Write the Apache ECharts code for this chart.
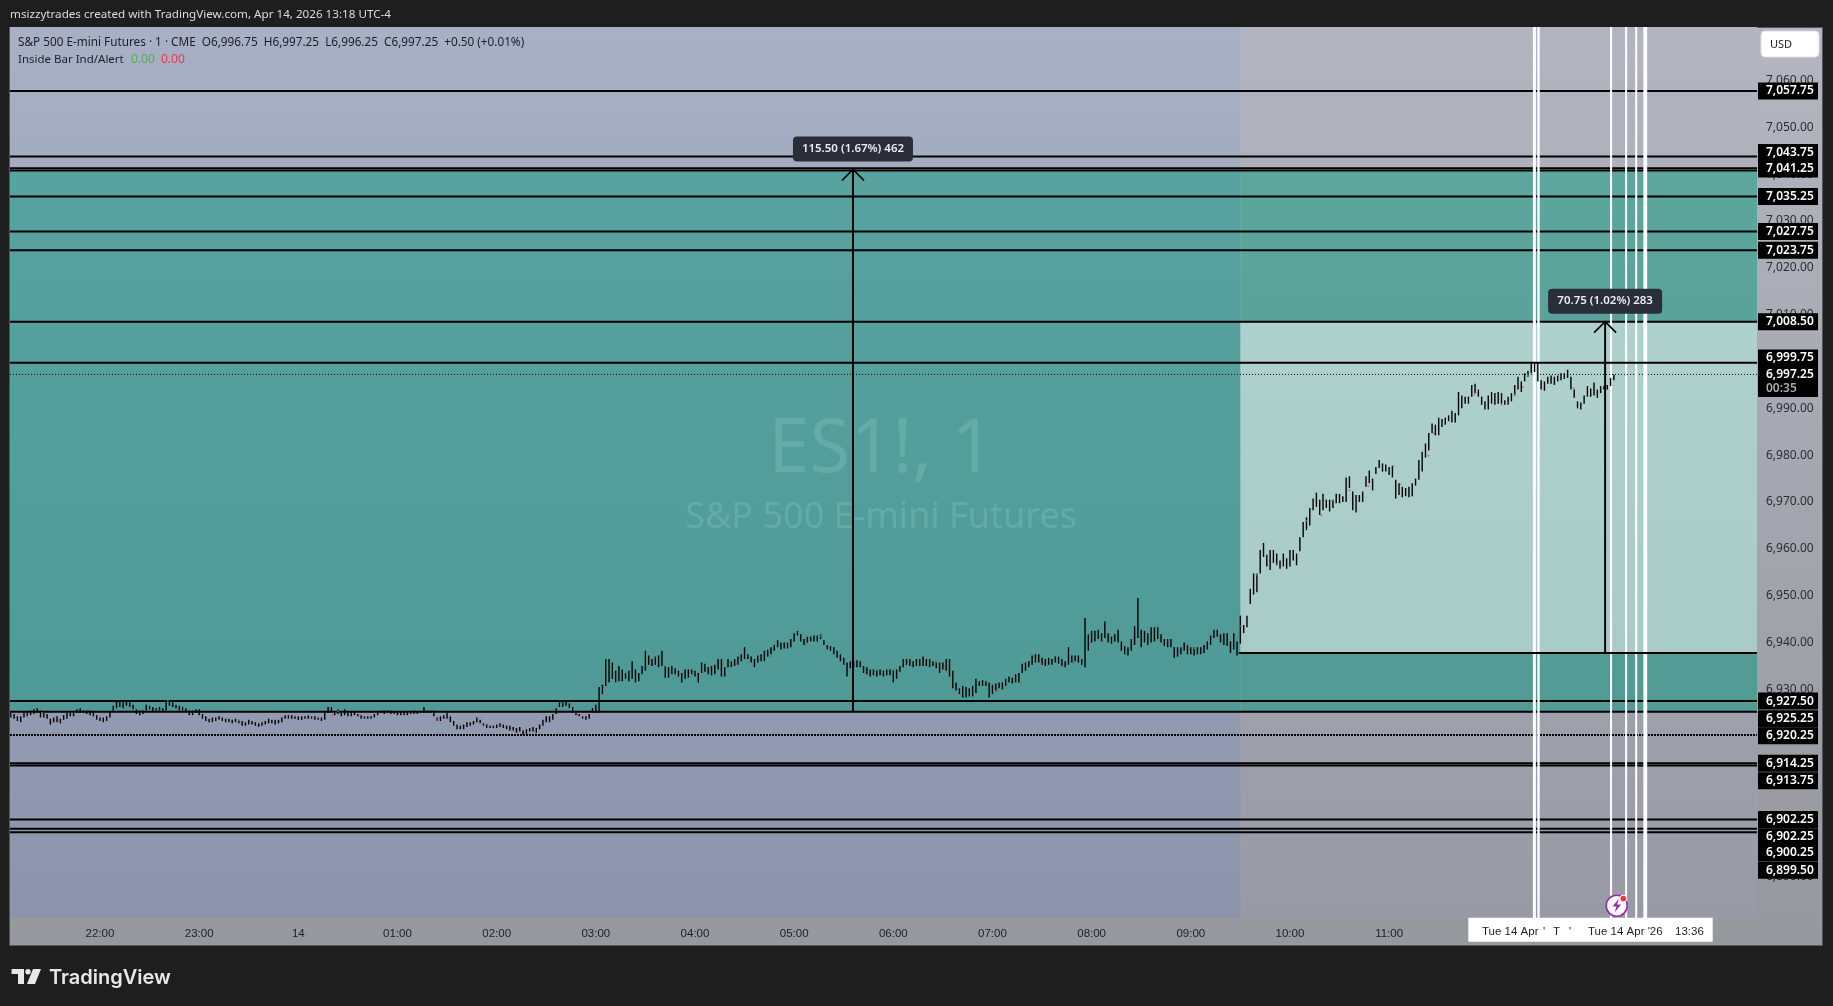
<!DOCTYPE html>
<html><head><meta charset="utf-8">
<style>html,body{margin:0;padding:0;background:#1e1e1e}#c{width:1833px;height:1006px}</style>
<script src="https://cdn.jsdelivr.net/npm/echarts@6/dist/echarts.min.js"></script>
</head><body><div id="c"></div>
<script>
const priceBase = 6900, barStart = -54, barStep = 2; // minutes after 22:00
const barLows = [24,23.75,23.25,23,24,24.25,24.5,24.75,25,24,24,23.75,22.5,23,23,22.75,23.5,23.75,24.25,24.25,25,25,25,24.75,24.5,24.25,23.5,23.25,23,23.25,24,25.5,26,26.25,26,26.5,26.25,25.75,24.75,24.5,24.75,25.5,25.75,25.25,25.5,25.5,25.25,25.5,26.5,26.25,26,25.5,25.5,25.25,24.5,24.5,25,24.5,23.75,23.25,23,23,23.25,23.5,23.25,23,23,22.75,23,22.75,22.25,22.25,22.5,22.5,22.25,22,22.25,22.5,22.75,22.75,22.5,22.75,23,23.75,23.75,23.75,23.75,23.5,23.5,23.75,23.75,23.75,23.5,23.5,23.25,23.5,25,25.25,24.5,24.75,24.25,24.5,24.25,24.25,24.5,24.25,23.75,23.75,23.75,23.75,24,24.5,25,24.75,25,24.75,24.75,24.5,24.5,24.5,24.5,24.75,24.75,24.75,25,25,25,25,24.25,23.25,23.25,23.75,23.75,23,22.25,21.5,21.5,21.5,22,22.25,22.5,23,22.75,22.25,21.75,21.75,21.75,21.75,22,21.75,21.5,21.25,21.25,20.75,21,20.25,20.5,21,21,20.75,21.5,22.25,23,23,23.5,24.75,26.25,26.25,26.5,26,25,24.5,24.25,23.75,23.5,23.75,25,25,25,
29,30.75,31.5,32.25,31.5,31.75,31.75,32.25,31.75,32.25,31.5,31.75,33.25,34,35.25,35,35.25,34.75,35,32.5,32.5,33.25,33.25,32.75,31.5,32.25,32.5,33.25,32.75,31.5,33.5,33.75,33.25,33,33.25,34.25,32.75,32.75,34.75,34.75,35,35.25,36,36.5,36.5,35.75,34.75,35.75,36,36,37,37.5,38.25,39,38.5,38.75,38.75,39,40.25,41.5,40.25,39.5,40,40.25,40.25,40.25,40.75,39.5,38.5,38.25,37.5,36.75,36,35.25,32.75,34.5,34.75,34.75,34.75,33.5,33.25,32.75,33,32.75,33,32.75,33,33,31.5,32.25,33.75,34.75,35.25,35,34.75,35,35,35,35,34.75,35,34.5,33.5,34.25,34,32.75,30.25,29.75,29,28.25,28.25,28.5,28.5,29.25,30.75,30.75,30.75,28.25,29,29.75,30.25,30,30.75,31.5,31.25,31.5,31.5,33.5,34,34.75,35.25,35.75,35.75,35.25,35,35.25,35.25,35.75,35.5,35,34.75,35.25,35.75,36,35.75,35.25,34.75,38.25,40,40.25,40.75,40.25,41,40,39.75,40.25,40,38.25,37.5,37.25,38.25,39.5,41,39,40,39.5,40,40.25,40.75,40,39.25,39,39,36.75,37,37.5,38.25,37.5,37.5,37.25,37.5,37.5,37.75,38.5,39.5,41,41.25,40,39.5,39.25,37.75,
38.5,37.25,39.75,42,43.25,48.25,50.25,50.75,54.75,58.25,56.25,55.5,57,56.5,55.75,56.25,55.75,56.25,57.5,56.5,59.5,62.5,64,65,68.25,69,67.25,68.25,68.75,68,68.75,69.75,69.75,70,70,73,68.25,67.75,70,70,73.25,74,72.5,76,77.25,76.5,76.5,75.75,75.25,70.75,71.5,71,71.25,71,71.25,73.5,74.75,76.5,79.5,81,84.75,84.25,84.25,86,86.5,87.25,87,87,88.5,90,91,91,92.5,93.25,92.5,90.75,89.75,89.75,91,90.75,91,91,90.75,90.75,91.5,92.75,94,93.5,95.75,96.75,97.5,97.75,95.75,94,93.75,95.25,95.25,95,95.75,96,96.25,96.5,94,92.25,90,89.75,91,92.5,92.5,92.75,92.25,93.25,94,94,94.75,96];
const barHighs = [25,24.75,24.25,24.25,25,25.25,25.5,25.75,26,25.5,25,24.75,23.75,24,24.25,23.75,24.5,25,25,25.25,25.75,26,25.5,25.5,25.5,25.25,24.5,24,24,24.25,25.25,26.5,27.5,27.25,27.25,27.5,27.5,26.75,25.75,25.5,25.5,26.75,26.5,26.25,26,26.25,26,27.25,27.75,27.25,26.75,26.5,26.25,26,25.5,25.5,25.75,25.75,24.75,24.25,23.75,24,24,24.25,24,23.75,23.75,23.5,23.75,23.5,23.25,23,23.5,23.25,23,22.75,23,23.25,23.75,23.5,23.5,23.5,24,24.5,24.5,24.5,24.25,24.25,24.25,24.25,24.5,24.25,24.25,24,24,25,26.25,26.25,25.25,25.75,25,25.75,25,25.25,25.25,24.75,24.5,24.25,24.25,24.25,24.75,25.25,25.5,25.5,25.5,25.5,25.25,25.25,25.25,25.25,25.25,25.25,25.5,25.25,25.25,26.25,25.5,25.5,25.5,24,24.25,24.5,25,24.25,23.25,22.5,22.25,22.5,23,23,23.25,24,23.5,22.75,22.5,22.25,22.25,22.5,22.75,22.5,22.25,22.25,22,21.75,22,21.25,21.5,21.75,22,21.75,22.5,23.5,24.25,24.25,24.75,26,27.25,27.25,27.5,27,26.25,25,24.75,24.25,24.25,24.75,26,26.75,30.5,
31,36.5,36.5,35.75,34,35,34.25,33.5,34,36,34.25,33.5,35,38.25,37.25,36.5,37,37.25,38.25,35,34.75,35,34.5,34,33.5,34.25,34.25,34.25,34,33.5,35.75,35.5,34.75,35,35.25,36.5,36.5,34.75,36.5,36,36.5,37,37.5,39,37.5,37,36.5,37.25,37.5,38.25,38.5,39,39.5,40.5,40,40,40,40.75,42,42.5,41.75,40.75,41.25,41.25,41.5,41.5,41.75,40.5,39.5,39.25,39,38.25,37.5,36.75,35.75,36,36,36.25,36,35,34.75,34.25,34.25,34.25,34.25,34,34.25,34.25,34.25,34.25,35,36.5,36.5,36.5,36,36.5,36.5,37,36.5,36.5,36,36,35.75,35.75,36.5,36.5,34,31.5,30.25,30.75,30.5,30.25,30.75,32.25,31.75,32,31.75,31.5,31,31.25,31.5,31.5,32.25,32.75,32.5,33.25,33.5,35.5,35.75,36,37.25,37.5,37.5,36.75,36.5,36.75,36.5,37,37,36.5,36,39,37.25,37.25,37.25,36.5,45.25,41.75,42.5,42.5,42.75,42,44.5,42,41.25,41.75,42.75,40.25,39.25,39,40.75,43.5,49.5,42.75,42.5,42,43.25,43.25,43.25,41.75,40.75,40.75,40.75,39,39,39,40,39.5,39,39,39,39,39.5,40.25,41.5,42.75,42.75,41.75,42,42,40.25,
42,40.25,45.75,43.75,45.75,51.5,54.75,54.75,59.75,61.25,58.75,59.75,59.75,59,57.5,59,58,59.75,59.75,59,62.5,65.75,66.75,68.75,70.75,72,70.5,71.75,70.5,70.5,70.5,71.75,71.75,71.25,75.25,75.5,72.25,71.5,71.5,72.25,75.5,76.75,75,77.5,79,78.25,78,77.5,77.75,74.75,74,73.25,73,73.25,74,75,79,80.75,82.5,84.75,86.75,86.5,88,87.75,88,88.5,89.5,89,93.5,92.75,92.5,92.5,95,95.25,94,92.5,91.5,92.75,93.5,93.25,93.5,93.25,91.75,92.5,93.25,95,96.75,95.75,97.5,98,99.5,99.5,99.75,96,95.75,96.75,97,96.75,97,97.5,97.5,98.25,96.75,94,91.5,91.25,92.75,94.75,94.25,95.5,94,94.75,94.75,95,96.5,97.25];
const greenDots = [[-53.3,24.7],[-35,24.95],[41,27.6],[50.8,25.8],[84,23.45],[128.5,24.2],[144,25.3],[218,22.6],[279,26.65],[319,33.1],[331,37.1],[342.6,34.85],[372,35.7],[423,42.1],[436,41.4],[470,34.15],[480,34.15],[506,35.85],[662.3,38.8],[690.4,43.5],[699.7,54.5],[729.8,66],[745.5,70.3],[782.6,77.7],[787.2,73.8],[848.6,92.85],[855.8,93],[863.9,97.1]];
const redDots = [[-24.6,23.15],[141,24.5],[204,23.5],[289,24.7],[365,33.7],[385.2,35.5],[406,37.1],[427.3,39.6],[463,33.5],[511,34.6],[543,29.65],[556.6,31.4],[569.4,35.5],[589,35.55],[607,40.3],[711.8,56.7],[739,67.15],[756,72.5],[767.5,73.35],[803.8,79.9],[806.8,84.65],[831.7,93],[848,90.8],[861,94.5],[891.6,94.3]];
const tMin = -54.46, tMax = 1002.6, pMin = 6881.2, pMax = 7071.41, sessionStart = 690;
const hourTicks = [0,60,120,180,240,300,360,420,480,540,600,660,720,780];
const hourLabels = ['22:00','23:00','14','01:00','02:00','03:00','04:00','05:00','06:00','07:00','08:00','09:00','10:00','11:00'];
const priceTicks = [6890,6900,6910,6920,6930,6940,6950,6960,6970,6980,6990,7000,7010,7020,7030,7040,7050,7060];
// price, line width
const levelsUnder = [[7057.75,2],[7043.75,2],[7041.25,2],[7040.75,2],[7035.25,2],[7027.75,2],[7023.75,2],[7008.5,2],[6927.5,2],[6925.25,2],[6914.25,2],[6913.75,2],[6902.25,2],[6900.25,2],[6899.5,2]];
const levelDotted = [6920.25];
const lastPrice = 6997.25, topLevel = 6999.75, openLevel = 6937.75;
const whiteLines = [[867.9,3],[870.4,2.4],[914.3,2],[923.4,2],[929.5,2],[935,3.8]];
const arrows = [[455.6,6925.25,7041,'115.50 (1.67%) 462'],[910.7,6937.75,7008.5,'70.75 (1.02%) 283']];
const priceTags = [['7,057.75',7057.75],['7,043.75',7044.62],['7,041.25',7041.1],['7,035.25',7035.25],['7,027.75',7027.75],['7,023.75',7023.75],['7,008.50',7008.5],['6,999.75',7000.75],['6,997.25',6997.25],['00:35',6994.25],['6,927.50',6927.5],['6,925.25',6923.74],['6,920.25',6920.12],['6,914.25',6914.25],['6,913.75',6910.5],['6,902.25',6902.25],['6,902.25',6898.55],['6,900.25',6895.07],['6,899.50',6891.4]];
const regions = [
 [tMin,sessionStart,pMin,pMax,'#a8b0c6','#8b94ab'],
 [sessionStart,tMax,pMin,pMax,'#b2b4c0','#989aa6'],
 [tMin,sessionStart,6925.25,7040.75,'#58a29f','#4f9a97'],
 [sessionStart,tMax,6925.25,7040.75,'#5da69e','#529a94'],
 [sessionStart,tMax,6937.75,7008.5,'#aed1cd','#a9cbc8']];
const watermark = [[472.6,6980.85,'ES1!, 1',74],[472.6,6966.55,'S&P 500 E-mini Futures',36]];
const font = '"Noto Sans"', dateFont = '"Liberation Sans"';

function lineEl(x1,y1,x2,y2,w,color,dash){
  return {type:'line',silent:true,shape:{x1,y1,x2,y2},style:{stroke:color,lineWidth:w,lineDash:dash||null,fill:null}};
}
function hLine(dash,color){
  return function(p,api){
    const cs=p.coordSys, y=api.coord([tMin,api.value(0)])[1];
    return lineEl(cs.x,y,cs.x+cs.width,y,api.value(1),color||'#000',dash);
  };
}
const grid={left:10,top:27,width:1747,height:891};
const series=[];
const custom=(name,data,renderItem,z)=>series.push({name,type:'custom',data,renderItem,z,silent:true,animation:false,coordinateSystem:'cartesian2d'});

custom('regions',regions,(p,api)=>{
  const r=regions[p.dataIndex], a=api.coord([r[0],r[3]]), b=api.coord([r[1],r[2]]);
  return {type:'rect',silent:true,shape:{x:a[0],y:a[1],width:b[0]-a[0],height:b[1]-a[1]},
    style:{fill:new echarts.graphic.LinearGradient(0,0,0,1,[{offset:0,color:r[4]},{offset:1,color:r[5]}])}};
},1);
custom('watermark',watermark,(p,api)=>{
  const w=watermark[p.dataIndex], c=api.coord([w[0],w[1]]);
  return {type:'text',silent:true,x:c[0],y:c[1],style:{text:w[2],fontSize:w[3],fontFamily:font,fill:'rgba(125,195,190,0.38)',align:'center',verticalAlign:'middle'}};
},2);
custom('levels',levelsUnder,hLine(null),3);
custom('dotted',levelDotted.map(v=>[v,2]),hLine([2,1]),3);
custom('last',[[lastPrice,1]],hLine([1,2]),3);
custom('white',whiteLines,(p,api)=>{
  const cs=p.coordSys,x=api.coord([api.value(0),pMin])[0];
  return lineEl(x,cs.y,x,cs.y+cs.height,api.value(1),'#fff');
},4);
custom('top',[[topLevel,2]],hLine(null),5);
custom('open',[[openLevel,2]],(p,api)=>{
  const cs=p.coordSys,c=api.coord([sessionStart-1,api.value(0)]);
  return lineEl(c[0],c[1],cs.x+cs.width,c[1],2,'#000');
},5);
custom('arrows',arrows,(p,api)=>{
  const r=arrows[p.dataIndex],lo=api.coord([r[0],r[1]]),hi=api.coord([r[0],r[2]]),x=lo[0];
  const boxH=25, boxW=p.dataIndex==0?120:114, top=hi[1]-boxH-8;
  return {type:'group',silent:true,children:[
    lineEl(x,lo[1],x,hi[1],2,'#000'),
    {type:'polyline',shape:{points:[[x-11,hi[1]+11],[x,hi[1]],[x+11,hi[1]+11]]},style:{stroke:'#000',lineWidth:1.6,fill:null}},
    {type:'rect',shape:{x:x-boxW/2,y:top,width:boxW,height:boxH,r:4},style:{fill:'#2a2e39'}},
    {type:'text',x:x,y:top+boxH/2,style:{text:r[3],fill:'#eeeef0',fontSize:11.5,fontWeight:600,fontFamily:font,align:'center',verticalAlign:'middle'}}
  ]};
},6);
custom('bars',barLows.map((l,i)=>[barStart+i*barStep,l+priceBase,barHighs[i]+priceBase]),(p,api)=>{
  const a=api.coord([api.value(0),api.value(2)]),b=api.coord([api.value(0),api.value(1)]);
  return {type:'rect',silent:true,shape:{x:a[0]-0.7,y:a[1],width:1.4,height:Math.max(1,b[1]-a[1])},style:{fill:'#000'}};
},7);
series.push({name:'up',type:'scatter',symbol:'rect',symbolSize:1.6,data:greenDots.map(d=>[d[0],d[1]+priceBase]),itemStyle:{color:'#4caf50'},z:8,silent:true,animation:false});
series.push({name:'down',type:'scatter',symbol:'rect',symbolSize:1.6,data:redDots.map(d=>[d[0],d[1]+priceBase]),itemStyle:{color:'#f23645'},z:8,silent:true,animation:false});
custom('tags',priceTags,(p,api)=>{
  const t=priceTags[p.dataIndex],c=api.coord([tMax,t[1]]),cs=p.coordSys,x=cs.x+cs.width+1;
  const dim=t[0]==='00:35';
  return {type:'group',silent:true,children:[
    {type:'rect',shape:{x:x,y:c[1]-8.5,width:60,height:17},style:{fill:'#000'}},
    {type:'text',x:x+8,y:c[1],style:{text:t[0],fill:dim?'#aaa':'#fff',fontSize:12,fontWeight:600,fontFamily:font,verticalAlign:'middle'}}
  ]};
},9);

const txt=(x,y,text,fill,size,family,weight)=>({type:'text',z:101,x,y,style:{text,fill,fontSize:size,fontFamily:family||font,fontWeight:weight||'normal',verticalAlign:'middle'}});
const G=[
 {type:'rect',z:0,shape:{x:9.5,y:27.5,width:1813,height:918},style:{fill:new echarts.graphic.LinearGradient(0,0,0,1,[{offset:0,color:'#b3b6c0'},{offset:1,color:'#96989e'}]),stroke:'#55575c',lineWidth:1}},
 txt(10,15,'msizzytrades created with TradingView.com, Apr 14, 2026 13:18 UTC-4','#dcdcdc',11.65),
 txt(18,43,'S&P 500 E-mini Futures · 1 · CME  O6,996.75  H6,997.25  L6,996.25  C6,997.25  +0.50 (+0.01%)','#1d1f26',11.75),
 txt(18,60,'Inside Bar Ind/Alert','#1d1f26',11.5),
 txt(131,60,'0.00','#4caf50',12),
 txt(161,60,'0.00','#f23645',12),
 {type:'rect',z:100,shape:{x:1761,y:31,width:58,height:26,r:4},style:{fill:'#fff',stroke:'#dfe0e4',lineWidth:1}},
 txt(1770,44.5,'USD','#1d1f26',11),
 {type:'rect',z:100,shape:{x:1468.3,y:917.7,width:244.4,height:24},style:{fill:'#fff'}},
 txt(1482,932,'Tue 14 Apr','#1d1f26',11.5,dateFont),
 txt(1543,932,"'",'#1d1f26',11.5,dateFont),
 txt(1553,932,'T','#1d1f26',11.5,dateFont),
 txt(1569,932,"'",'#1d1f26',11.5,dateFont),
 txt(1588,932,"Tue 14 Apr '26",'#1d1f26',11.5,dateFont),
 txt(1675,932,'13:36','#1d1f26',11.5,dateFont),
 {type:'circle',z:102,shape:{cx:1616.7,cy:905.7,r:10.5},style:{fill:'#fff',stroke:'#9c27b0',lineWidth:1.6}},
 {type:'polygon',z:103,shape:{points:[[1619,898.5],[1612.5,906.5],[1616.5,906.5],[1614.5,912.5],[1621,904.5],[1617,904.5]]},style:{fill:'#9c27b0'}},
 {type:'circle',z:103,shape:{cx:1623.3,cy:898.6,r:3.4},style:{fill:'#f23645',stroke:'#fff',lineWidth:1}},
 {type:'polygon',z:100,shape:{points:[[11.6,969],[24,969],[24,984],[18,984],[18,974],[11.6,974]]},style:{fill:'#e8e8e8'}},
 {type:'circle',z:100,shape:{cx:28,cy:971.7,r:2.7},style:{fill:'#e8e8e8'}},
 {type:'polygon',z:100,shape:{points:[[33,969],[41,969],[35,984],[27,984]]},style:{fill:'#e8e8e8'}},
 txt(49,977.5,'TradingView','#e8e8e8',20,'Inter',600)
];

const chart=echarts.init(document.getElementById('c'),null,{renderer:'canvas'});
chart.setOption({
  animation:false,backgroundColor:'#1e1e1e',
  grid,
  graphic:{elements:G},
  xAxis:{type:'value',min:tMin,max:tMax,
    axisLine:{show:false},axisTick:{show:false},splitLine:{show:false},
    axisLabel:{customValues:hourTicks,color:'#1d1f26',fontSize:11.5,fontFamily:dateFont,margin:10,
      hideOverlap:false,formatter:v=>hourLabels[hourTicks.indexOf(v)]}},
  yAxis:{type:'value',position:'right',min:pMin,max:pMax,scale:true,
    axisLine:{show:false},axisTick:{show:false},splitLine:{show:false},
    axisLabel:{customValues:priceTicks,color:'#2b2d33',fontSize:12,fontFamily:font,margin:9,
      hideOverlap:false,formatter:v=>Math.floor(v/1000)+','+String(v%1000).padStart(3,'0')+'.00'}},
  series
});
</script></body></html>
